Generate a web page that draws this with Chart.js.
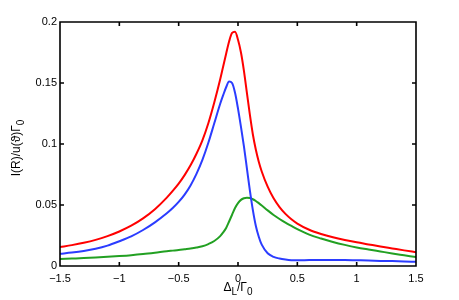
<!DOCTYPE html>
<html>
<head>
<meta charset="utf-8">
<script src="https://cdn.jsdelivr.net/npm/chart.js@4.4.1/dist/chart.umd.min.js"></script>
<style>
  html, body { margin: 0; padding: 0; background: #fff; }
  #wrap { width: 459px; height: 300px; }
</style>
</head>
<body>
<div id="wrap"><canvas id="chart" width="459" height="300"></canvas></div>
<script>
// detuning values
const xValues = [-1.5, -1.4, -1.3, -1.2, -1.1, -1.0, -0.9, -0.8, -0.7, -0.6,
  -0.55, -0.5, -0.45, -0.4, -0.35, -0.3, -0.25, -0.2, -0.15, -0.125,
  -0.1, -0.075, -0.05, -0.025, 0, 0.025, 0.05, 0.075, 0.1, 0.125,
  0.15, 0.175, 0.2, 0.25, 0.3, 0.35, 0.4, 0.45, 0.5, 0.6,
  0.7, 0.8, 0.9, 1.0, 1.1, 1.2, 1.3, 1.4, 1.5]

const redValues = [0.0155, 0.0171, 0.0190, 0.0214, 0.0245, 0.0283, 0.0330, 0.0390, 0.0465, 0.0560,
  0.0615, 0.0675, 0.0745, 0.0825, 0.0920, 0.1030, 0.1170, 0.1340, 0.1530, 0.1635,
  0.1740, 0.1840, 0.1910, 0.1920, 0.1855, 0.175, 0.160, 0.142, 0.124, 0.108,
  0.0955, 0.0855, 0.0775, 0.065, 0.0555, 0.0483, 0.0427, 0.0383, 0.0348, 0.0297,
  0.0262, 0.0235, 0.0213, 0.0194, 0.0177, 0.0160, 0.0144, 0.0128, 0.0113]

const blueValues = [0.0100, 0.0110, 0.0123, 0.0141, 0.0167, 0.0203, 0.0243, 0.0295, 0.0358, 0.0432,
  0.0475, 0.0525, 0.0585, 0.0660, 0.0755, 0.0870, 0.1010, 0.1170, 0.1330, 0.1400,
  0.1465, 0.1512, 0.1500, 0.1420, 0.1290, 0.114, 0.098, 0.080, 0.062, 0.046,
  0.033, 0.024, 0.0175, 0.0105, 0.0075, 0.0061, 0.0053, 0.0048, 0.0047, 0.0049,
  0.0050, 0.0050, 0.0049, 0.0047, 0.0045, 0.0042, 0.0040, 0.0037, 0.0035]

const greenValues = [0.0057, 0.0061, 0.0065, 0.0070, 0.0076, 0.0082, 0.0089, 0.0098, 0.0109, 0.0121,
  0.0126, 0.0131, 0.0137, 0.0143, 0.0151, 0.0162, 0.0180, 0.0205, 0.0245, 0.0275,
  0.0312, 0.0365, 0.0420, 0.0475, 0.0515, 0.0542, 0.0555, 0.0560, 0.0557, 0.0547,
  0.0533, 0.0515, 0.0496, 0.0456, 0.0418, 0.0385, 0.0355, 0.0328, 0.0302, 0.0257,
  0.0225, 0.0197, 0.0173, 0.0152, 0.0135, 0.0119, 0.0103, 0.0088, 0.0073]

const xTicks = [-1.5, -1, -0.5, 0, 0.5, 1, 1.5]
const yTicks = [0, 0.05, 0.1, 0.15, 0.2]

function toPoints(ys) {
  return xValues.map((x, i) => ({x: x, y: ys[i]}))
}

function line(label, ys, color) {
  return {
    label: label,
    data: toPoints(ys),
    borderColor: color,
    borderWidth: 2,
    pointRadius: 0,
    fill: false,
    cubicInterpolationMode: 'monotone'
  }
}

// draws text with subscripts, centred on (cx, cy)
function drawParts(ctx, parts, cx, cy, size) {
  const mainFont = `${size}px "Liberation Sans", "DejaVu Sans", sans-serif`
  const subFont = `${Math.round(size * 0.8)}px "Liberation Sans", "DejaVu Sans", sans-serif`
  let total = 0
  parts.forEach(p => {
    ctx.font = p.sub ? subFont : mainFont
    p.w = ctx.measureText(p.t).width
    total += p.w
  })
  let x = cx - total / 2
  ctx.textBaseline = 'middle'
  ctx.textAlign = 'left'
  parts.forEach(p => {
    ctx.font = p.sub ? subFont : mainFont
    ctx.fillText(p.t, x, p.sub ? cy + 4 : cy)
    x += p.w
  })
}

// box and inward ticks on all four sides, plus the two axis titles
const matlabFrame = {
  id: 'matlabFrame',
  afterDraw(chart) {
    const ctx = chart.ctx
    const a = chart.chartArea
    const xs = chart.scales.x
    const ys = chart.scales.y
    const len = 4
    ctx.save()
    ctx.strokeStyle = '#000000'
    ctx.lineWidth = 1.6
    ctx.lineCap = 'butt'
    ctx.setLineDash([])
    ctx.beginPath()
    ctx.rect(a.left, a.top, a.right - a.left, a.bottom - a.top)
    xTicks.forEach(v => {
      const px = xs.getPixelForValue(v)
      ctx.moveTo(px, a.bottom); ctx.lineTo(px, a.bottom - len)
      ctx.moveTo(px, a.top); ctx.lineTo(px, a.top + len)
    })
    yTicks.forEach(v => {
      const py = ys.getPixelForValue(v)
      ctx.moveTo(a.left, py); ctx.lineTo(a.left + len, py)
      ctx.moveTo(a.right, py); ctx.lineTo(a.right - len, py)
    })
    ctx.stroke()

    ctx.fillStyle = '#000'
    drawParts(ctx, [{t: 'Δ'}, {t: 'L', sub: true}, {t: '/Γ'}, {t: '0', sub: true}],
      (a.left + a.right) / 2, 288, 12)
    ctx.translate(17, (a.top + a.bottom) / 2 + 4)
    ctx.rotate(-Math.PI / 2)
    drawParts(ctx, [{t: 'I(R)/u(ϑ)Γ'}, {t: '0', sub: true}], 0, 0, 12)
    ctx.restore()
  }
}

const tickFont = {family: '"Liberation Sans", "DejaVu Sans", sans-serif', size: 11}

new Chart(document.getElementById('chart'), {
  type: 'line',
  data: {
    datasets: [
      line('red', redValues, '#ff0000'),
      line('blue', blueValues, '#2b3cff'),
      line('green', greenValues, '#22a022')
    ]
  },
  options: {
    responsive: false,
    animation: false,
    layout: {padding: {top: 22, right: 43, left: 0, bottom: 0}},
    plugins: {legend: {display: false}, tooltip: {enabled: false}},
    scales: {
      x: {
        type: 'linear',
        position: 'bottom',
        min: -1.5,
        max: 1.5,
        afterBuildTicks: s => { s.ticks = xTicks.map(v => ({value: v})) },
        afterFit: s => { s.height = 34 },
        grid: {display: false, drawTicks: false},
        border: {display: false},
        ticks: {
          color: '#000',
          font: tickFont,
          padding: 6,
          maxRotation: 0,
          callback: v => String(v).replace('-', '\u2212')
        }
      },
      y: {
        type: 'linear',
        position: 'left',
        min: 0,
        max: 0.2,
        afterBuildTicks: s => { s.ticks = yTicks.map(v => ({value: v})) },
        afterFit: s => { s.width = 60 },
        grid: {display: false, drawTicks: false},
        border: {display: false},
        ticks: {
          color: '#000',
          font: tickFont,
          padding: 3,
          callback: v => String(v)
        }
      }
    }
  },
  plugins: [matlabFrame]
})
</script>
</body>
</html>
